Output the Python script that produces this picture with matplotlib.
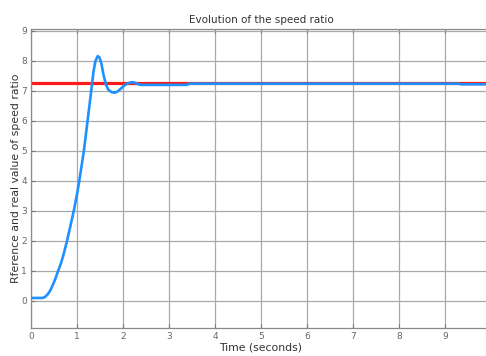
import numpy as np
import matplotlib
matplotlib.use('Agg')
import matplotlib.pyplot as plt

# reference speed ratio (step setpoint)
ref_t = [0.0, 10.0]
ref_val = [7.26, 7.26]

# measured speed ratio response
time_s = [0.0, 0.25, 0.30, 0.35, 0.40, 0.45, 0.52, 0.59, 0.65, 0.70, 0.78, 0.85,
          0.93, 1.00, 1.05, 1.10, 1.15, 1.23, 1.31, 1.36, 1.40, 1.45, 1.49, 1.53,
          1.58, 1.63, 1.68, 1.75, 1.82, 1.88, 1.95, 2.02, 2.10, 2.16, 2.22, 2.28,
          2.33, 2.38, 3.38, 3.45, 9.30, 9.35, 10.0]
speed_ratio = [0.10, 0.10, 0.13, 0.20, 0.30, 0.45, 0.70, 1.00, 1.25, 1.50, 1.98,
               2.45, 3.00, 3.55, 4.00, 4.50, 5.00, 6.00, 7.00, 7.65, 7.98, 8.15,
               8.10, 7.90, 7.50, 7.20, 7.03, 6.95, 6.93, 6.97, 7.06, 7.16, 7.24,
               7.27, 7.28, 7.25, 7.21, 7.19, 7.19, 7.23, 7.23, 7.21, 7.21]

xticks = list(range(0, 10))
yticks = list(range(0, 10))

fig = plt.figure(figsize=(4.86, 3.56), dpi=100)
ax = fig.add_axes([31 / 486, 28 / 356, 460 / 486, 299 / 356])

ax.plot(ref_t, ref_val, color='#ff1a1a', lw=2.3, zorder=2, solid_capstyle='butt')
ax.plot(time_s, speed_ratio, color='#1e90ff', lw=1.9, zorder=3)

ax.set_xlim(0, 10)
ax.set_ylim(-0.9, 9.05)
ax.set_xticks(xticks)
ax.set_yticks(yticks)
ax.grid(True, color='#a9a9a9', lw=0.9)
ax.set_axisbelow(True)

ax.tick_params(direction='in', length=3, width=0.8, colors='#777777',
               labelsize=6.5, labelcolor='#666666', top=True, right=True, pad=3)
for sp in ax.spines.values():
    sp.set_color('#8a8a8a')
    sp.set_linewidth(0.9)

ax.set_title('Evolution of the speed ratio', fontsize=7.5, color='#333333', pad=4)
ax.set_xlabel('Time (seconds)', fontsize=7.8, color='#333333', labelpad=1)
ax.set_ylabel('Rference and real value of speed ratio', fontsize=7.8,
              color='#333333', labelpad=0)

fig.savefig('out.png', dpi=100)
